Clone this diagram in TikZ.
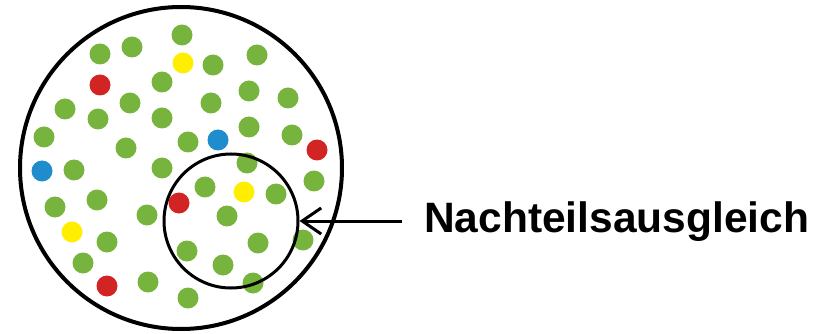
\documentclass[tikz,border=0pt]{standalone}
\usepackage{fontspec}
\setmainfont{Liberation Sans}
\usetikzlibrary{arrows.meta}
\definecolor{dgreen}{RGB}{118,180,62}
\definecolor{dred}{RGB}{210,36,34}
\definecolor{dyellow}{RGB}{255,238,0}
\definecolor{dblue}{RGB}{30,140,205}
\tikzset{
  dot/.style={circle, inner sep=0pt, minimum size=21pt, draw=none},
  gdot/.style={dot, fill=dgreen},
  rdot/.style={dot, fill=dred},
  ydot/.style={dot, fill=dyellow},
  bdot/.style={dot, fill=dblue},
  ring/.style={circle, draw=black, inner sep=0pt},
  label/.style={font=\fontsize{42.5}{46}\selectfont\bfseries, inner sep=0pt, text height=30pt, text depth=0pt, anchor=west},
  pointer/.style={draw=black, line width=3pt, {Straight Barb[length=19pt,width=26pt]}-}
}
\begin{document}
\begin{tikzpicture}[x=1pt,y=-1pt]
\useasboundingbox (0,0) rectangle (817,334);
% green dots
\foreach \p in {(100,54),(132,47),(162,82),(65,109),(130,103),(98,119),(162,118),(44,137),(126,148),(74,170),(162,168),(182,35),(213,65),(257,55),(249,91),(211,103),(288,98),(188,142),(249,127),(292,135),(247,163),(55,207),(97,200),(147,215),(107,242),(83,263),(148,282),(205,187),(276,194),(314,181),(227,216),(258,243),(303,240),(187,251),(223,265),(253,283),(188,298)}
  \node[gdot] at \p {};
\foreach \p in {(100,85),(317,150),(179,203),(107,286)}
  \node[rdot] at \p {};
\foreach \p in {(183,63),(72,232),(244,192)}
  \node[ydot] at \p {};
\foreach \p in {(42,171),(218,140)}
  \node[bdot] at \p {};
\node[ring, line width=4pt, minimum size=322pt] (big) at (181,168) {};
\node[ring, line width=3pt, minimum size=134pt] (sc) at (231,221) {};
\node[label] (txt) at (424,217) {Nachteilsausgleich};
\draw[pointer, shorten >=22pt] (sc.east) -- (sc.east -| txt.west);
\end{tikzpicture}
\end{document}
